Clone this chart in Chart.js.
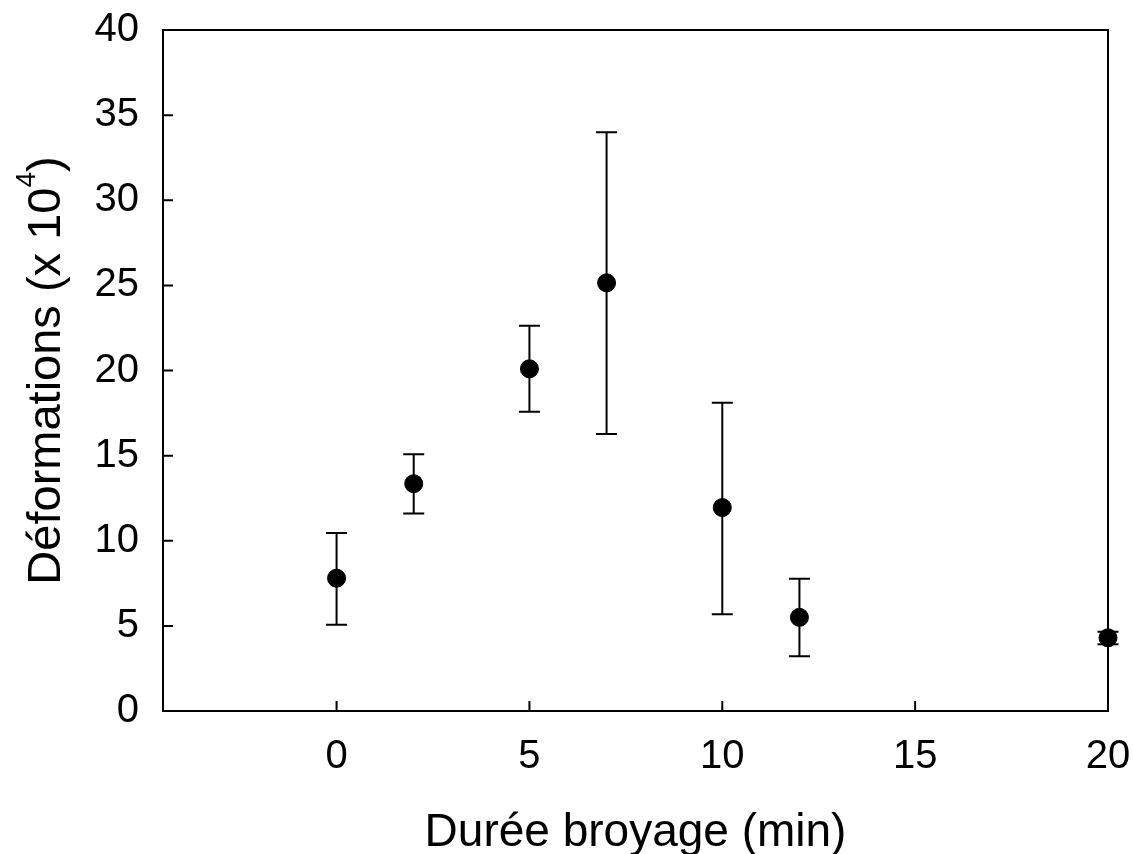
<!DOCTYPE html>
<html>
<head>
<meta charset="utf-8">
<script src="https://cdn.jsdelivr.net/npm/chart.js@4.4.1/dist/chart.umd.min.js"></script>
<style>
    html, body { margin: 0; padding: 0; background: #fff; }
    #wrap { width: 1133px; height: 854px; position: relative; }
</style>
</head>
<body>
<div id="wrap"><canvas id="chart"></canvas></div>
<script>
"use strict";

// 粉砕時間 (min)
const durees = [0, 2, 5, 7, 10, 12, 20];
// 平均値 (x 10^4)
const moyennes = [7.8, 13.35, 20.1, 25.15, 11.95, 5.5, 4.3];
// エラーバー上端
const hauts = [10.45, 15.08, 22.63, 34.0, 18.1, 7.77, 4.66];
// エラーバー下端
const bas = [5.07, 11.6, 17.58, 16.27, 5.68, 3.21, 3.92];

// 目盛り
const xTicks = [0, 5, 10, 15, 20];
const yTicks = [0, 5, 10, 15, 20, 25, 30, 35, 40];

// 軸タイトル
const xTitle = "Durée broyage (min)";
const yTitle = ["Déformations (x 10", "4", ")"];

const FONT = "'Liberation Sans', Arial, sans-serif";

// ラベルのはみ出し分の余白を無効化
const noPad = s => {
    s.paddingLeft = 0;
    s.paddingRight = 0;
    s.paddingTop = 0;
    s.paddingBottom = 0;
};

// エラーバー・枠・内向き目盛り・縦軸タイトルを描くプラグイン
const framePlugin = {
    id: "frame",
    beforeDatasetsDraw(chart) {
        const {ctx, scales: {x, y}} = chart;
        ctx.save();
        ctx.strokeStyle = "#000";
        ctx.lineWidth = 2;
        durees.forEach((d, i) => {
            const px = x.getPixelForValue(d);
            const pt = y.getPixelForValue(hauts[i]);
            const pb = y.getPixelForValue(bas[i]);
            ctx.beginPath();
            ctx.moveTo(px, pt);
            ctx.lineTo(px, pb);
            ctx.moveTo(px - 10.5, pt);
            ctx.lineTo(px + 10.5, pt);
            ctx.moveTo(px - 10.5, pb);
            ctx.lineTo(px + 10.5, pb);
            ctx.stroke();
        });
        ctx.restore();
    },
    afterDraw(chart) {
        const {ctx, chartArea: a, scales: {x, y}} = chart;
        ctx.save();
        ctx.strokeStyle = "#000";
        ctx.lineWidth = 2;
        ctx.strokeRect(a.left, a.top, a.right - a.left, a.bottom - a.top);
        ctx.beginPath();
        xTicks.forEach(v => {
            const px = x.getPixelForValue(v);
            ctx.moveTo(px, a.bottom);
            ctx.lineTo(px, a.bottom - 10);
        });
        yTicks.forEach(v => {
            const py = y.getPixelForValue(v);
            ctx.moveTo(a.left, py);
            ctx.lineTo(a.left + 10, py);
        });
        ctx.stroke();

        // 縦軸タイトル（上付き文字付き）
        const mainFont = "47px " + FONT;
        const supFont = "28px " + FONT;
        ctx.font = mainFont;
        const w0 = ctx.measureText(yTitle[0]).width;
        const w2 = ctx.measureText(yTitle[2]).width;
        ctx.font = supFont;
        const w1 = ctx.measureText(yTitle[1]).width;
        const total = w0 + w1 + w2;
        ctx.translate(60, (a.top + a.bottom) / 2);
        ctx.rotate(-Math.PI / 2);
        ctx.fillStyle = "#000";
        ctx.textBaseline = "alphabetic";
        ctx.textAlign = "left";
        let cx = -total / 2;
        ctx.font = mainFont;
        ctx.fillText(yTitle[0], cx, 0);
        cx += w0;
        ctx.font = supFont;
        ctx.fillText(yTitle[1], cx, -25);
        cx += w1;
        ctx.font = mainFont;
        ctx.fillText(yTitle[2], cx, 0);
        ctx.restore();
    }
};

const ctx = document.getElementById("chart");
new Chart(ctx, {
    type: "scatter",
    data: {
        datasets: [{
            data: durees.map((d, i) => ({x: d, y: moyennes[i]})),
            backgroundColor: "#000",
            borderColor: "#000",
            pointRadius: 9,
            pointHoverRadius: 9,
            clip: false
        }]
    },
    options: {
        responsive: true,
        maintainAspectRatio: false,
        animation: false,
        events: [],
        layout: {
            padding: {top: 30, right: 25, left: 0, bottom: 0}
        },
        plugins: {
            legend: {display: false},
            tooltip: {enabled: false}
        },
        scales: {
            x: {
                type: "linear",
                min: -4.5,
                max: 20,
                afterBuildTicks: s => { s.ticks = xTicks.map(v => ({value: v})); },
                afterFit: s => { s.height = 143; noPad(s); },
                grid: {display: false},
                border: {display: false},
                ticks: {
                    color: "#000",
                    padding: 14,
                    maxRotation: 0,
                    font: {family: FONT, size: 40}
                },
                title: {
                    display: true,
                    text: xTitle,
                    color: "#000",
                    font: {family: FONT, size: 46, lineHeight: 1},
                    padding: {top: 0, bottom: -2}
                }
            },
            y: {
                type: "linear",
                min: 0,
                max: 40,
                afterBuildTicks: s => { s.ticks = yTicks.map(v => ({value: v})); },
                afterFit: s => { s.width = 163; noPad(s); },
                grid: {display: false},
                border: {display: false},
                ticks: {
                    color: "#000",
                    padding: 16,
                    font: {family: FONT, size: 40}
                },
                title: {display: false}
            }
        }
    },
    plugins: [framePlugin]
});
</script>
</body>
</html>
